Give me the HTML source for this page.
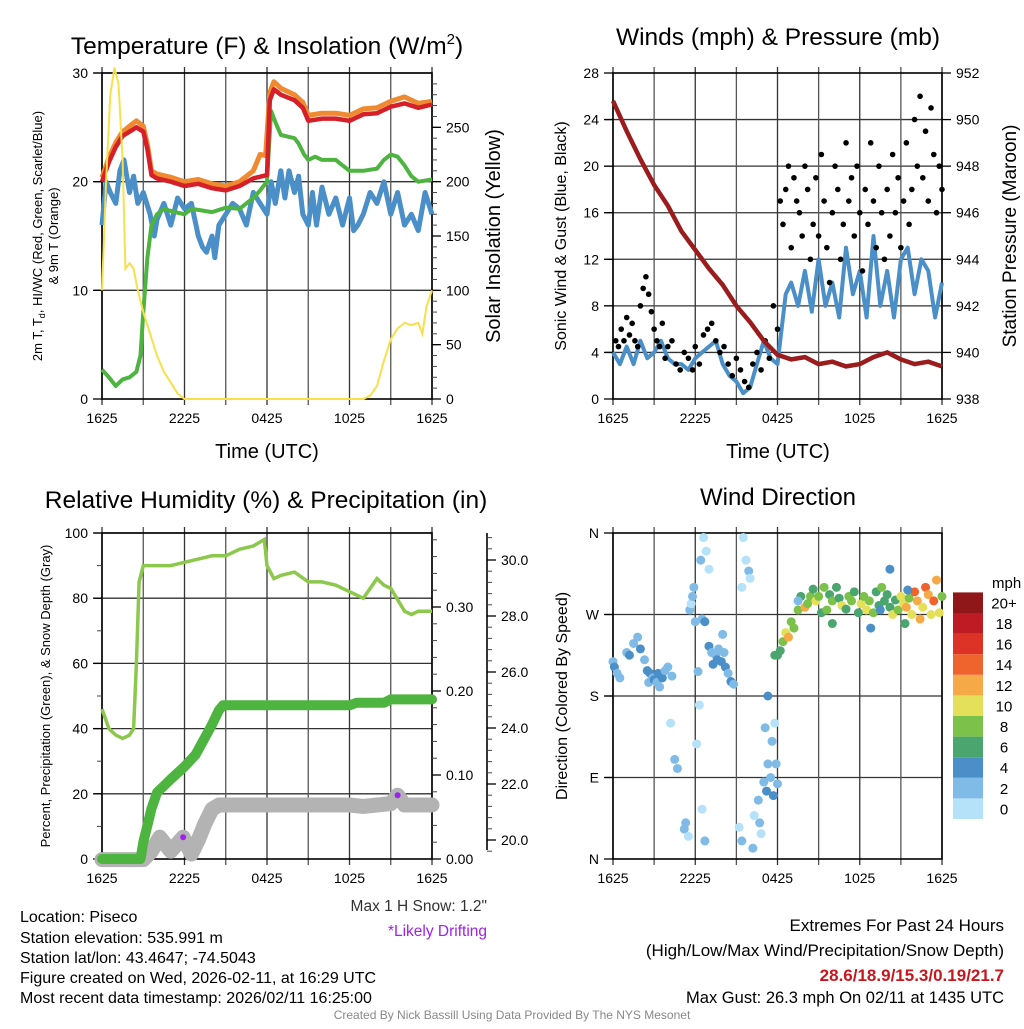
<!DOCTYPE html>
<html><head><meta charset="utf-8"><style>
body{margin:0;background:#fff;}
svg text{font-family:"Liberation Sans",sans-serif;fill:#000;}
</style></head><body>
<svg id="svg" width="1024" height="1024" viewBox="0 0 1024 1024" xmlns="http://www.w3.org/2000/svg">
<g id="g1"></g>
<g id="g2"></g>
<g id="g3"></g>
<g id="g4"></g>
<text x="267" y="54" font-size="24.5" text-anchor="middle">Temperature (F) &amp; Insolation (W/m<tspan font-size="15" dy="-10">2</tspan><tspan dy="10">)</tspan></text>
<text x="778" y="45" font-size="24.5" text-anchor="middle">Winds (mph) &amp; Pressure (mb)</text>
<text x="266" y="508" font-size="24.5" text-anchor="middle">Relative Humidity (%) &amp; Precipitation (in)</text>
<text x="778" y="505" font-size="24" text-anchor="middle">Wind Direction</text>
<text x="267" y="458" font-size="20" text-anchor="middle">Time (UTC)</text>
<text x="778" y="458" font-size="20" text-anchor="middle">Time (UTC)</text>
<text transform="translate(42,236) rotate(-90)" font-size="13" text-anchor="middle">2m T, T<tspan font-size="9" dy="3">d</tspan><tspan dy="-3">, HI/WC (Red, Green, Scarlet/Blue)</tspan></text>
<text transform="translate(58,236) rotate(-90)" font-size="13" text-anchor="middle">&amp; 9m T (Orange)</text>
<text transform="translate(500,236) rotate(-90)" font-size="20" text-anchor="middle">Solar Insolation (Yellow)</text>
<text transform="translate(566,236) rotate(-90)" font-size="16" text-anchor="middle">Sonic Wind &amp; Gust (Blue, Black)</text>
<text transform="translate(1016,236) rotate(-90)" font-size="19" text-anchor="middle">Station Pressure (Maroon)</text>
<text transform="translate(50,696) rotate(-90)" font-size="13" text-anchor="middle">Percent, Precipitation (Green), &amp; Snow Depth (Gray)</text>
<text transform="translate(567,696) rotate(-90)" font-size="16" text-anchor="middle">Direction (Colored By Speed)</text>
<text x="20" y="922" font-size="16">Location: Piseco</text>
<text x="20" y="943" font-size="16">Station elevation: 535.991 m</text>
<text x="20" y="963" font-size="16">Station lat/lon: 43.4647; -74.5043</text>
<text x="20" y="983" font-size="16">Figure created on Wed, 2026-02-11, at 16:29 UTC</text>
<text x="20" y="1003" font-size="16">Most recent data timestamp: 2026/02/11 16:25:00</text>
<text x="487" y="911" font-size="15.5" text-anchor="end" style="fill:#333">Max 1 H Snow: 1.2"</text>
<text x="487" y="936" font-size="15.5" text-anchor="end" style="fill:#a020f0">*Likely Drifting</text>
<text x="1004" y="931" font-size="17" text-anchor="end">Extremes For Past 24 Hours</text>
<text x="1004" y="956" font-size="17" text-anchor="end">(High/Low/Max Wind/Precipitation/Snow Depth)</text>
<text x="1004" y="981" font-size="17" font-weight="bold" text-anchor="end" style="fill:#c8161d">28.6/18.9/15.3/0.19/21.7</text>
<text x="1004" y="1003" font-size="16.5" text-anchor="end">Max Gust: 26.3 mph On 02/11 at 1435 UTC</text>
<text x="512" y="1019" font-size="12" text-anchor="middle" style="fill:#888">Created By Nick Bassill Using Data Provided By The NYS Mesonet</text>
</svg>
<script>
// ---- data (hours since 1625 UTC) ----
const timeLabels=["1625","2225","0425","1025","1625"];
const redT=[0,0.5,1,1.5,2,2.5,3,3.3,3.6,4,5,6,7,8,9,10,11,12,12.2,12.5,13,14,14.6,15,16,17,18,19,20,21,22,23,24];
const redV=[20,21.8,23.2,24.2,24.6,25,24.6,23,20.6,20.3,20,19.6,19.8,19.4,19.2,19.6,20.3,20.6,27.5,28.5,28,27.5,26.8,25.6,25.8,25.8,25.6,26.2,26.3,26.9,27.2,26.8,27.1];
const orgT=[0,0.5,1,1.5,2,2.5,3,3.3,3.6,4,5,6,7,8,9,10,11,11.5,11.9,12.2,12.5,13,14,14.6,15,16,17,18,19,20,21,22,23,24];
const orgV=[20.4,22.2,23.6,24.6,25.1,25.6,25.1,23.4,21,20.7,20.4,20,20.2,19.8,19.6,20,21,22.5,22.4,28.2,29.2,28.6,28,27.3,26.1,26.3,26.3,26.1,26.7,26.8,27.4,27.8,27.2,27.4];
const dewT=[0,0.5,1,1.5,2,2.5,2.8,3,3.3,3.6,4,4.5,5,6,6.5,7,8,9,10,11,11.5,12,12.3,12.6,13,14,14.3,14.7,15,15.5,16,17,17.5,18,19,20,20.5,21,21.5,22,22.5,23,24];
const dewV=[2.7,2,1.2,1.8,2,2.5,4,8,13,16,17,17.5,17.3,17,17.5,17.4,17.2,17.6,17.5,18.5,19.2,20,26.5,25.5,24.3,24,23.5,22.5,22,22.3,22,22,21.5,21,21,21.2,22,22.5,22.3,21.5,20.5,20,20.2];
const wcT=[0,0.3,0.6,1,1.3,1.6,2,2.3,2.6,3,3.5,3.8,4,4.5,5,5.5,6,6.5,7,7.3,7.6,8,8.2,8.5,9,9.5,10,10.5,11,11.5,12,12.3,12.6,13,13.3,13.6,14,14.3,14.6,15,15.3,15.6,16,16.5,17,17.5,18,18.3,18.6,19,19.5,20,20.5,21,21.5,22,22.5,23,23.5,24];
const wcV=[16,20,19,18,21,22,19,20.5,18,19,17,15,16.5,18,16,18.5,17.5,18,15,14,13.5,15,13,16,17,18,17.5,16,19,18,17,20,18,21,18.5,21,19,20.5,17,16,19,16,19.5,17,18.5,16,18.5,15.5,16,17,19,18,20,17,19,16,17,15.5,19,17];
const solT=[0,0.3,0.6,0.9,1.2,1.5,1.7,2,2.3,2.6,3,3.5,4,4.5,5,5.5,6,19,19.5,20,20.5,21,21.5,22,22.5,23,23.3,23.6,24];
const solV=[100,200,280,305,290,220,120,125,120,100,80,60,40,25,15,5,0,0,3,12,35,55,65,70,68,70,60,85,100];
const windT=[0,0.5,1,1.5,2,2.5,3,3.5,4,4.5,5,5.5,6,6.5,7,7.5,8,8.5,9,9.5,10,10.5,11,11.5,12,12.3,12.6,13,13.5,14,14.5,15,15.5,16,16.5,17,17.5,18,18.5,19,19.5,20,20.5,21,21.5,22,22.5,23,23.5,24];
const windV=[4,3,4.5,3,5,3.5,4,5,3.5,3,3,2.5,3.5,4,4.5,5,3,2,1.5,0.5,1,3,5,3.5,3,6,9,10,8,11,7.5,12,8,10,7,13,9,11,7,14,8,11,7,12,13,9,12,11,7,10];
const gustT=[0.2,0.4,0.6,0.8,1,1.2,1.4,1.6,1.8,2,2.2,2.4,2.6,2.8,3,3.2,3.4,3.6,3.8,4,4.3,4.6,4.9,5.2,5.5,5.8,6,6.3,6.6,6.9,7.2,7.5,7.8,8.1,8.4,8.7,9,9.3,9.6,9.9,10.2,10.5,10.8,11.1,11.4,11.7,12,12.2,12.4,12.6,12.8,13,13.2,13.4,13.6,13.8,14,14.2,14.4,14.6,14.8,15,15.2,15.4,15.6,15.8,16,16.2,16.4,16.6,16.8,17,17.2,17.4,17.6,17.8,18,18.2,18.4,18.6,18.8,19,19.2,19.4,19.6,19.8,20,20.2,20.4,20.6,20.8,21,21.2,21.4,21.6,21.8,22,22.2,22.4,22.6,22.8,23,23.2,23.4,23.6,23.8,24];
const gustV=[5,4.5,6,5,7,5.5,6.5,5,4.5,8,9.5,10.5,9,7.5,6,5,4.5,6.5,3.5,4.5,5,3,2.5,4,3.5,2.5,4.5,3,5.5,6,6.5,5,4,4.5,3,2,3.5,2.5,1.5,1,3,4,2.5,5,3.5,8,6,17,15,18,20,13,19,17,16,14,20,18,12,15,19,14,21,17,13,10,16,20,18,12,15,22,17,19,14,20,16,11,18,15,22,17,13,20,16,12,18,14,21,16,19,13,17,22,15,18,24,20,26,19,23,17,25,21,16,20,18];
const presT=[0,1,2,3,4,5,6,7,8,9,10,11,12,13,14,15,16,17,18,19,20,21,22,23,24];
const presV=[950.8,949.5,948.3,947.2,946.3,945.2,944.4,943.6,942.9,942,941.3,940.5,939.9,939.7,939.8,939.5,939.6,939.4,939.5,939.8,940,939.7,939.5,939.6,939.4];
const rhT=[0,0.5,1,1.5,2,2.3,2.5,2.7,3,4,5,6,7,8,9,10,11,11.8,12,12.5,13,14,15,16,17,18,19,20,20.5,21,22,22.5,23,24];
const rhV=[46,40,38,37,38,40,60,85,90,90,90,91,92,93,93,95,96,98,90,86,87,88,85,85,84,82,80,86,84,83,76,75,76,76];
const prT=[0,2.8,3,3.3,3.6,4,5,6,6.8,7.4,8,8.5,8.8,18,18.5,20.5,21,24];
const prV=[0,0,0.02,0.04,0.06,0.079,0.095,0.11,0.124,0.142,0.16,0.177,0.183,0.183,0.186,0.186,0.19,0.19];
const snT=[0,3,3.6,4.2,5,5.9,6.5,7,7.5,8,8.5,18,19,20,21,21.5,22,24];
const snV=[19.3,19.3,19.6,20.1,19.6,20.1,19.5,20,20.6,21.1,21.25,21.25,21.2,21.25,21.3,21.6,21.25,21.25];
const driftT=[5.9,21.5];
const driftV=[20.1,21.6];
const dirT=[0,0.1,0.3,0.5,1,1.2,1.5,1.8,2,2.3,2.5,2.6,2.7,2.9,3,3.2,3.3,3.4,3.6,3.8,4,4.3,4.2,4.5,4.7,5.2,5.3,5.5,5.6,5.7,5.8,5.9,6,6.1,6.2,6.3,6.4,6.5,6.6,6.7,6.8,7,6.5,6.7,7,7.2,7.3,7.5,7.6,7.7,7.9,8,8.1,8.2,8.4,8.6,8.8,9.2,9.4,9.5,9.7,9.9,10,9.4,10.2,10.3,10.6,10.7,10.8,11,11.2,11.3,11.5,11.3,11.6,11.8,11.9,12,11.7,11.1,11.8,12,12.2,12.4,12.6,12.8,13,13.2,13.5,13.7,14,14.2,14.4,14.6,14.8,15,15.2,15.4,15.6,15.8,16,16.3,16.5,16.7,17,17.2,17.4,17.6,17.9,18.1,18.3,18.5,18.7,19,19.2,19.4,19.6,19.8,20,20.2,20.4,20.6,20.8,21,21.2,21.4,21.6,21.8,22,22.2,22.4,22.6,22.8,23,23.2,23.4,23.6,23.8,24,21.3,18.8,21.5,20.2,13.5,19.5,16];
const dirV=[218,212,205,200,228,225,238,245,232,220,208,195,205,200,198,195,205,190,200,208,212,202,150,110,100,33,40,25,275,282,290,300,262,127,207,170,330,55,355,20,340,320,265,262,235,228,215,225,220,232,218,248,228,212,205,196,193,35,20,355,330,318,310,300,12,48,65,40,28,85,75,105,90,180,130,150,105,83,70,145,225,225,230,240,250,245,262,255,275,290,278,282,290,298,285,290,272,300,275,292,285,300,288,280,276,290,285,295,272,282,290,275,285,272,295,280,300,285,292,278,270,286,275,290,282,278,288,270,295,285,265,278,300,292,270,285,308,272,290,260,255,297,320,285,275,260];
const dirSpd=[3,4,3,2,3,4,3,3,4,3,4,3,4,3,4,3,4,3,4,3,2,3,1,2,2,2,3,1,2,1,3,2,3,1,2,1,2,1,1,3,1,1,3,4,4,3,4,3,4,3,4,3,3,4,3,4,3,1,2,1,1,3,1,1,3,1,3,2,1,3,4,3,2,5,2,1,2,3,4,3,7,7,6,8,10,12,8,8,8,7,12,8,9,7,10,8,6,8,9,7,8,6,7,10,6,9,8,6,7,10,8,10,9,8,6,7,9,6,6,6,10,7,8,11,10,12,9,11,14,12,12,10,15,12,10,15,12,10,9,7,5,4,4,3,4,6];
const cbLabels=["0","2","4","6","8","10","12","14","16","18","20+"];
const cbColors=["#b5e2f8","#7fbbe6","#4a8fc8","#4aa56e","#7cc24a","#e5e05a","#f5a947","#ef632d","#dd3327","#bd1c24","#8f1719"];

const NS="http://www.w3.org/2000/svg";
function mk(parent,tag,attrs){const e=document.createElementNS(NS,tag);for(const k in attrs)e.setAttribute(k,attrs[k]);parent.appendChild(e);return e;}
function lin(d0,d1,r0,r1){return v=>r0+(v-d0)*(r1-r0)/(d1-d0);}
function pathD(ts,vs,fx,fy){return ts.map((t,i)=>(i?'L':'M')+fx(t).toFixed(1)+','+fy(vs[i]).toFixed(1)).join('');}

function frame(g,x0,x1,y0,y1,name){
  const fx=lin(0,24,x0,x1);
  for(let h=0;h<=24;h+=3){const x=fx(h);
    const l=mk(g,'line',{x1:x,x2:x,y1:y0-6,y2:y1+6,stroke:h%6===0?'#333':'#555','stroke-width':1.3});
    
    }
  timeLabels.forEach((s,i)=>{const t=mk(g,'text',{x:fx(i*6),y:y1+24,'font-size':14,'text-anchor':'middle'});t.textContent=s;
    
    });
  const r=mk(g,'rect',{x:x0,y:y0,width:x1-x0,height:y1-y0,fill:'none',stroke:'#000','stroke-width':1.6});
  
  
  return fx;
}
function hgrid(g,x0,x1,ys){ys.forEach(y=>{const l=mk(g,'line',{x1:x0-8,x2:x1,y1:y,y2:y,stroke:'#333','stroke-width':1.3});
  
  });}
function yTicks(g,x,vals,fy,fmt,side,minor){
  if(minor)minor.forEach(v=>{mk(g,'line',{x1:x,x2:x+(side>0?5:-5),y1:fy(v),y2:fy(v),stroke:'#444','stroke-width':1});});
  vals.forEach(v=>{mk(g,'line',{x1:x,x2:x+(side>0?9:-9),y1:fy(v),y2:fy(v),stroke:'#000','stroke-width':1.3});
    const t=mk(g,'text',{x:x+(side>0?14:-14),y:fy(v)+5,'font-size':14,'text-anchor':side>0?'start':'end'});t.textContent=fmt(v);
    
    });
}
function range(a,b,s){const r=[];for(let v=a;v<=b+1e-9;v+=s)r.push(+v.toFixed(4));return r;}

// ---- Panel 1 ----
(function(){const g=document.getElementById('g1');
  const x0=102,x1=432,y0=73,y1=399;
  const fy=lin(0,30,y1,y0), fs=lin(0,300,y1,y0);
  hgrid(g,x0,x1,[fy(10),fy(20),fy(30)]);
  const fx=frame(g,x0,x1,y0,y1,'temperature');
  yTicks(g,x0,[0,10,20,30],fy,v=>v,-1);
  yTicks(g,x1,[0,50,100,150,200,250],fs,v=>v,1,range(0,290,10));
  const series=[[wcT,wcV,'#4a8fc8',5,'wind-chill-line'],[dewT,dewV,'#4cb43f',4,'dewpoint-line'],[orgT,orgV,'#f08a30',5,'temp-9m-line'],[redT,redV,'#d5202a',4.5,'temp-2m-line']];
  series.forEach(s=>{const p=mk(g,'path',{d:pathD(s[0],s[1],fx,fy),fill:'none',stroke:s[2],'stroke-width':s[3],'stroke-linejoin':'round'});
    
    });
  const p=mk(g,'path',{d:pathD(solT,solV,fx,fs),fill:'none',stroke:'#f8e04a','stroke-width':2});
  
  
})();

// ---- Panel 2 ----
(function(){const g=document.getElementById('g2');
  const x0=613,x1=942,y0=73,y1=399;
  const fy=lin(0,28,y1,y0), fp=lin(938,952,y1,y0);
  hgrid(g,x0,x1,range(4,24,4).map(fy));
  const fx=frame(g,x0,x1,y0,y1,'wind');
  yTicks(g,x0,range(0,28,4),fy,v=>v,-1);
  yTicks(g,x1,range(938,952,2),fp,v=>v,1);
  const w=mk(g,'path',{d:pathD(windT,windV,fx,fy),fill:'none',stroke:'#4a8fc8','stroke-width':4,'stroke-linejoin':'round'});
  
  
  gustT.forEach((t,i)=>{const c=mk(g,'circle',{cx:fx(t),cy:fy(gustV[i]),r:2.8,fill:'#000'});
    
    });
  const p=mk(g,'path',{d:pathD(presT,presV,fx,fp),fill:'none',stroke:'#9b1c1c','stroke-width':4.5});
  
  
})();

// ---- Panel 3 ----
(function(){const g=document.getElementById('g3');
  const x0=102,x1=432,y0=533,y1=859;
  const fy=lin(0,100,y1,y0), fpr=lin(0,0.1,y1,775), fsn=lin(20,30,840,560);
  hgrid(g,x0,x1,range(20,100,20).map(fy));
  const fx=frame(g,x0,x1,y0,y1,'humidity');
  yTicks(g,x0,range(0,100,20),fy,v=>v,-1,range(0,100,10));
  yTicks(g,x1,[0,0.1,0.2,0.3],fpr,v=>v.toFixed(2),1,range(0,0.38,0.02));
  const ax=mk(g,'line',{x1:487,x2:487,y1:533,y2:850,stroke:'#000','stroke-width':1.6});
  
  
  yTicks(g,487,range(20,30,2),fsn,v=>v.toFixed(1),1,range(19.6,30.8,0.4));
  const sn=mk(g,'path',{d:pathD(snT,snV,fx,fsn),fill:'none',stroke:'#b3b3b3','stroke-width':15,'stroke-linecap':'round','stroke-linejoin':'round'});
  
  
  const pr=mk(g,'path',{d:pathD(prT,prV,fx,fpr),fill:'none',stroke:'#4cb43f','stroke-width':10,'stroke-linecap':'round','stroke-linejoin':'round'});
  
  
  const rh=mk(g,'path',{d:pathD(rhT,rhV,fx,fy),fill:'none',stroke:'#8cc84b','stroke-width':3.5});
  
  
  driftT.forEach((t,i)=>{const c=mk(g,'circle',{cx:fx(t),cy:fsn(driftV[i]),r:3,fill:'#a020f0'});
    
    });
})();

// ---- Panel 4 ----
(function(){const g=document.getElementById('g4');
  const x0=613,x1=942,y0=533,y1=859;
  const fd=lin(0,360,y1,y0);
  hgrid(g,x0,x1,[90,180,270].map(fd));
  const fx=frame(g,x0,x1,y0,y1,'direction');
  yTicks(g,x0,[0,90,180,270,360],fd,v=>['N','E','S','W','N'][v/90],-1);
  dirT.forEach((t,i)=>{const k=Math.min(10,Math.floor(dirSpd[i]/2));
    const c=mk(g,'circle',{cx:fx(t),cy:fd(dirV[i]),r:4.5,fill:cbColors[k]});
    
    });
  const t=mk(g,'text',{x:992,y:588,'font-size':15});t.textContent='mph';
  
  
  cbColors.forEach((c,i)=>{const y=819-(i+1)*20.6;
    const r=mk(g,'rect',{x:953,y:y,width:30,height:20.6,fill:c});
    
    
    const l=mk(g,'text',{x:1004,y:y+16,'font-size':15,'text-anchor':'middle'});l.textContent=cbLabels[i];
    
    });
})();
</script>
</body></html>
